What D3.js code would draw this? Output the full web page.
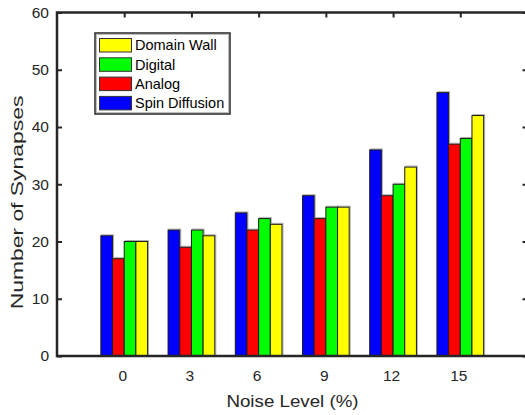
<!DOCTYPE html>
<html>
<head>
<meta charset="utf-8">
<script src="https://cdn.jsdelivr.net/npm/d3@7"></script>
<style>
  html, body { margin: 0; padding: 0; background: #fff; }
  svg { display: block; }
  text { font-family: "Liberation Sans", Arial, Helvetica, sans-serif; fill: #262626; }
</style>
</head>
<body>
<div id="chart"></div>
<script>
const categories = ["0", "3", "6", "9", "12", "15"];
const seriesNames = ["Spin Diffusion", "Analog", "Digital", "Domain Wall"];
const spinDiffusion = [21, 22, 25, 28, 36, 46];
const analog = [17, 19, 22, 24, 28, 37];
const digital = [20, 22, 24, 26, 30, 38];
const domainWall = [20, 21, 23, 26, 33, 42];
const seriesColors = ["#0000ff", "#ff0000", "#00ff00", "#ffff00"];
const yTicks = [0, 10, 20, 30, 40, 50, 60];
const legendOrder = ["Domain Wall", "Digital", "Analog", "Spin Diffusion"];

const seriesValues = [spinDiffusion, analog, digital, domainWall];

(function () {
const W = 525, H = 415;
const mLeft = 57, mRight = 527.5, mTop = 12.5, mBottom = 356;

const svg = d3.select("#chart").append("svg").attr("width", W).attr("height", H);

const x = d3.scaleLinear().domain([-1, categories.length]).range([mLeft, mRight]);
const y = d3.scaleLinear().domain([0, 60]).range([mBottom, mTop]);

const groupWidth = 0.695;
const barW = groupWidth / seriesNames.length;

// bars (with faint gray shadow like the reference)
seriesValues.forEach((vals, si) => {
  const g = svg.append("g");
  g.selectAll("rect.shadow")
    .data(vals)
    .enter()
    .append("rect")
    .attr("class", "shadow")
    .attr("x", (d, i) => x(i - groupWidth / 2 + si * barW) + 1)
    .attr("y", d => y(d) - 1)
    .attr("width", x(barW) - x(0))
    .attr("height", d => y(0) - y(d) + 1)
    .attr("fill", "none")
    .attr("stroke", "#b0b0b0")
    .attr("stroke-width", 1);
  g.selectAll("rect.bar")
    .data(vals)
    .enter()
    .append("rect")
    .attr("class", "bar")
    .attr("x", (d, i) => x(i - groupWidth / 2 + si * barW))
    .attr("y", d => y(d))
    .attr("width", x(barW) - x(0))
    .attr("height", d => y(0) - y(d))
    .attr("fill", seriesColors[si])
    .attr("stroke", "#1a1a1a")
    .attr("stroke-width", 1);
});

const axisColor = "#262626";
const yAxis = d3.axisLeft(y).tickValues(yTicks).tickSize(-5).tickPadding(8);
const yg = svg.append("g").attr("transform", `translate(${mLeft},0)`).call(yAxis);
yg.select(".domain").remove();
yg.selectAll("line").attr("stroke", axisColor).attr("stroke-width", 2);
yg.selectAll("text").style("font-size", "15.5px").style("fill", axisColor)
  .style("font-family", "'Liberation Sans', Arial, sans-serif");

const yAxisR = d3.axisRight(y).tickValues(yTicks).tickSize(-5).tickFormat("");
const ygr = svg.append("g").attr("transform", `translate(${mRight},0)`).call(yAxisR);
ygr.select(".domain").remove();
ygr.selectAll("line").attr("stroke", axisColor).attr("stroke-width", 2);

const xAxis = d3.axisBottom(x).tickValues(d3.range(categories.length))
  .tickFormat(i => categories[i]).tickSize(0).tickPadding(14);
const xg = svg.append("g").attr("transform", `translate(0,${mBottom})`).call(xAxis);
xg.select(".domain").remove();
xg.selectAll("text").style("font-size", "15.5px").style("fill", axisColor)
  .style("font-family", "'Liberation Sans', Arial, sans-serif")
  .attr("dx", "-2");

const xAxisT = d3.axisTop(x).tickValues(d3.range(categories.length)).tickSize(-5).tickFormat("");
const xgt = svg.append("g").attr("transform", `translate(0,${mTop})`).call(xAxisT);
xgt.select(".domain").remove();
xgt.selectAll("line").attr("stroke", axisColor).attr("stroke-width", 2);

svg.append("rect")
  .attr("x", mLeft).attr("y", mTop)
  .attr("width", mRight - mLeft).attr("height", mBottom - mTop)
  .attr("fill", "none").attr("stroke", axisColor).attr("stroke-width", 2.5);

svg.append("text")
  .attr("transform", "translate(292.5,406.5) scale(1.15,1)")
  .attr("text-anchor", "middle")
  .style("font-size", "16.3px")
  .text("Noise Level (%)");

svg.append("text")
  .attr("transform", "translate(22.5,202.5) rotate(-90) scale(1.45,1)")
  .attr("text-anchor", "middle")
  .style("font-size", "15.8px")
  .text("Number of Synapses");

const lg = svg.append("g");
lg.append("rect")
  .attr("x", 95).attr("y", 33).attr("width", 135).attr("height", 81)
  .attr("fill", "#fff").attr("stroke", "#262626").attr("stroke-width", 1.5);
lg.append("rect")
  .attr("x", 96.5).attr("y", 34.5).attr("width", 132).attr("height", 78)
  .attr("fill", "none").attr("stroke", "#bdbdbd").attr("stroke-width", 1);
legendOrder.forEach((name, i) => {
  const si = seriesNames.indexOf(name);
  const yy = 38.5 + i * 19.3;
  lg.append("rect")
    .attr("x", 99.5).attr("y", yy).attr("width", 32).attr("height", 13.5)
    .attr("fill", seriesColors[si]).attr("stroke", "#333").attr("stroke-width", 1);
  lg.append("text")
    .attr("x", 135).attr("y", yy + 11.8)
    .style("font-size", "14.5px").style("fill", "#000")
    .text(name);
});
})();
</script>
</body>
</html>
